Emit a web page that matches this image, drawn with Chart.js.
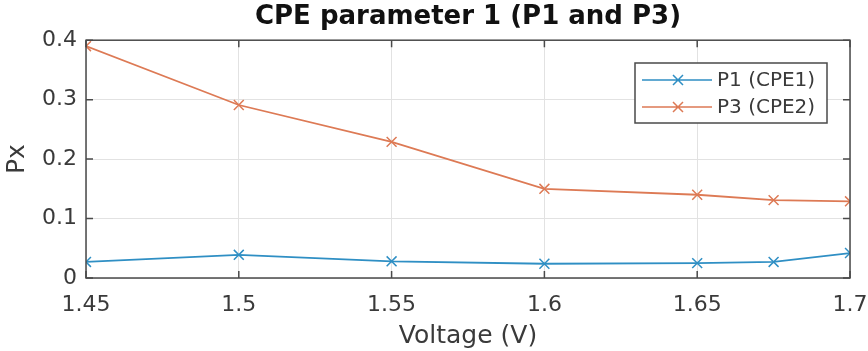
<!DOCTYPE html>
<html>
<head>
<meta charset="utf-8">
<script src="https://cdn.jsdelivr.net/npm/chart.js@4"></script>
<style>
  html, body { margin: 0; padding: 0; background: #fff; }
  #wrap { width: 868px; height: 351px; }
</style>
</head>
<body>
<div id="wrap"><canvas id="chart" width="868" height="351"></canvas></div>
<script>
const voltage = [1.45, 1.5, 1.55, 1.6, 1.65, 1.675, 1.7];
const p1 = [0.027, 0.039, 0.028, 0.024, 0.025, 0.027, 0.042];
const p3 = [0.390, 0.291, 0.229, 0.150, 0.140, 0.131, 0.129];
const xTicks = [1.45, 1.5, 1.55, 1.6, 1.65, 1.7];
const yTicks = [0, 0.1, 0.2, 0.3, 0.4];

const blue = '#2f8fc4';
const orange = '#dd7a55';
const axisColor = '#4a4a4a';
const textColor = '#3a3a3a';

const toPoints = ys => voltage.map((x, i) => ({ x, y: ys[i] }));

// box round the axes, inward ticks, legend in the top right corner
const frame = {
  id: 'frame',
  afterDraw(chart) {
    const c = chart.ctx;
    const a = chart.chartArea;
    const xs = chart.scales.x;
    const ys = chart.scales.y;
    c.save();
    c.strokeStyle = axisColor;
    c.lineWidth = 1.5;
    c.strokeRect(a.left, a.top, a.right - a.left, a.bottom - a.top);
    c.beginPath();
    xTicks.forEach(v => {
      const px = xs.getPixelForValue(v);
      c.moveTo(px, a.bottom); c.lineTo(px, a.bottom - 7);
      c.moveTo(px, a.top); c.lineTo(px, a.top + 7);
    });
    yTicks.forEach(v => {
      const py = ys.getPixelForValue(v);
      c.moveTo(a.left, py); c.lineTo(a.left + 7, py);
      c.moveTo(a.right, py); c.lineTo(a.right - 7, py);
    });
    c.stroke();

    // legend
    const bx = 635, by = 63, bw = 192, bh = 60;
    c.fillStyle = '#fff';
    c.fillRect(bx, by, bw, bh);
    c.strokeStyle = axisColor;
    c.lineWidth = 1.5;
    c.strokeRect(bx, by, bw, bh);
    c.font = '20px "DejaVu Sans"';
    c.textBaseline = 'middle';
    chart.data.datasets.forEach((ds, i) => {
      const ly = by + 17 + i * 27;
      c.strokeStyle = ds.borderColor;
      c.lineWidth = 1.5;
      c.beginPath();
      c.moveTo(bx + 7, ly); c.lineTo(bx + 77, ly);
      const cx = bx + 43, r = 5;
      c.moveTo(cx - r, ly - r); c.lineTo(cx + r, ly + r);
      c.moveTo(cx - r, ly + r); c.lineTo(cx + r, ly - r);
      c.stroke();
      c.fillStyle = textColor;
      c.fillText(ds.label, bx + 82, ly + 1);
    });
    c.restore();
  }
};

new Chart(document.getElementById('chart'), {
  type: 'line',
  data: {
    datasets: [
      {
        label: 'P1 (CPE1)',
        data: toPoints(p1),
        borderColor: blue,
        backgroundColor: blue,
        borderWidth: 1.8,
        pointStyle: 'crossRot',
        pointRadius: 7,
        pointBorderWidth: 1.5,
        tension: 0
      },
      {
        label: 'P3 (CPE2)',
        data: toPoints(p3),
        borderColor: orange,
        backgroundColor: orange,
        borderWidth: 1.8,
        pointStyle: 'crossRot',
        pointRadius: 7,
        pointBorderWidth: 1.5,
        tension: 0
      }
    ]
  },
  options: {
    responsive: false,
    animation: false,
    layout: { padding: { top: 0, right: 0, left: 0, bottom: 0 } },
    plugins: {
      legend: { display: false },
      tooltip: { enabled: false },
      title: {
        display: true,
        text: 'CPE parameter 1 (P1 and P3)',
        color: '#111',
        font: { family: 'DejaVu Sans', size: 26, weight: 'bold' },
        padding: { top: 2, bottom: 7 },
        fullSize: false
      }
    },
    scales: {
      x: {
        type: 'linear',
        min: 1.45,
        max: 1.7,
        afterBuildTicks: s => { s.ticks = xTicks.map(v => ({ value: v })); },
        afterFit: s => { s.height = 73; s.paddingRight = 18; s.paddingLeft = 0; },
        ticks: {
          color: textColor,
          font: { family: 'DejaVu Sans', size: 22 },
          padding: 14,
          maxRotation: 0,
          autoSkip: false,
          callback: v => String(+v.toFixed(3))
        },
        grid: { color: '#e2e2e2', drawTicks: false },
        border: { display: false },
        title: {
          display: true,
          text: 'Voltage (V)',
          color: textColor,
          font: { family: 'DejaVu Sans', size: 25 },
          padding: { top: 0, bottom: 0 }
        }
      },
      y: {
        min: 0,
        max: 0.4,
        afterBuildTicks: s => { s.ticks = yTicks.map(v => ({ value: v })); },
        afterFit: s => { s.width = 86; s.paddingTop = 0; s.paddingBottom = 0; },
        ticks: {
          color: textColor,
          font: { family: 'DejaVu Sans', size: 22 },
          padding: 9,
          callback: v => String(+v.toFixed(2))
        },
        grid: { color: '#e2e2e2', drawTicks: false },
        border: { display: false },
        title: {
          display: true,
          text: 'Px',
          color: textColor,
          font: { family: 'DejaVu Sans', size: 25 },
          padding: { top: 2, bottom: 0 }
        }
      }
    }
  },
  plugins: [frame]
});
</script>
</body>
</html>
